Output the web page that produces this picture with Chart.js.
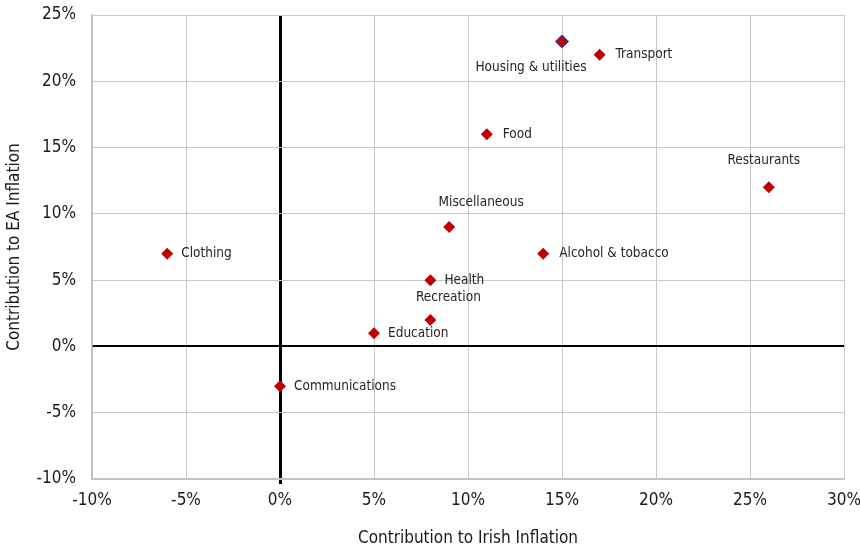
<!DOCTYPE html>
<html>
<head>
<meta charset="utf-8">
<script src="https://cdn.jsdelivr.net/npm/chart.js@4.4.1/dist/chart.umd.min.js"></script>
<style>
  html, body { margin: 0; padding: 0; background: #fff; }
</style>
</head>
<body>
<canvas id="scatter" width="860" height="551"></canvas>
<script>
// contribution to Irish inflation (x) vs EA inflation (y), in %
const categories = ['Housing & utilities', 'Transport', 'Food', 'Restaurants', 'Miscellaneous',
  'Alcohol & tobacco', 'Clothing', 'Health', 'Recreation', 'Education', 'Communications'];
const irish = [15, 17, 11, 26, 9, 14, -6, 8, 8, 5, 0];
const ea = [23, 22, 16, 12, 9, 7, 7, 5, 2, 1, -3];
const xTicks = [-10, -5, 0, 5, 10, 15, 20, 25, 30];
const yTicks = [-10, -5, 0, 5, 10, 15, 20, 25];

// label placement relative to the point (pixels), centre-aligned unless 'right'
const labelOffset = [[-31, 26], [16, 0], [16, 0], [-5, -27], [32, -25],
  [16, 0], [14, 0], [14, 0], [18, -22], [14, 0], [14, 0]];
const labelRight = [false, true, true, false, false, true, true, true, false, true, true];

const ctx = document.getElementById('scatter').getContext('2d');
const fam = '"DejaVu Sans Condensed", "Liberation Sans Narrow", sans-serif';
const tickFont = { family: fam, size: 17 };
const titleFont = { family: fam, size: 17 };

const pointLabels = {
  id: 'pointLabels',
  afterDatasetsDraw(chart) {
    const meta = chart.getDatasetMeta(0);
    const c = chart.ctx;
    c.save();
    c.font = '13.5px ' + fam;
    c.fillStyle = '#262626';
    c.textBaseline = 'middle';
    meta.data.forEach((pt, i) => {
      c.textAlign = labelRight[i] ? 'left' : 'center';
      c.fillText(categories[i], pt.x + labelOffset[i][0], pt.y + labelOffset[i][1]);
    });
    c.restore();
  }
};

new Chart(ctx, {
  type: 'scatter',
  data: {
    labels: categories,
    datasets: [{
      data: irish.map((x, i) => ({ x: x, y: ea[i] })),
      backgroundColor: '#c00000',
      borderColor: categories.map((c, i) => i === 0 ? '#4b2a7a' : '#c00000'),
      borderWidth: categories.map((c, i) => i === 0 ? 1.5 : 0),
      pointStyle: 'rectRot',
      pointRadius: 6,
      pointHoverRadius: 6
    }]
  },
  options: {
    responsive: false,
    animation: false,
    maintainAspectRatio: false,
    layout: { padding: { top: 15, right: 16, left: 4, bottom: 2 } },
    plugins: { legend: { display: false }, tooltip: { enabled: false } },
    scales: {
      x: {
        type: 'linear',
        min: -10, max: 30,
        afterBuildTicks: (axis) => { axis.ticks = xTicks.map(v => ({ value: v })); },
        afterFit: (axis) => { axis.height = 70; axis.paddingLeft = 0; axis.paddingRight = 0; },
        border: { color: '#c0c0c0', width: 1.5 },
        grid: {
          color: (c) => c.tick && c.tick.value === 0 ? '#000' : '#c8c8c8',
          lineWidth: (c) => c.tick && c.tick.value === 0 ? 3 : 1,
          tickLength: 5,
          tickColor: (c) => c.tick && c.tick.value === 0 ? '#000' : 'rgba(0,0,0,0)',
          tickWidth: 3
        },
        ticks: { font: tickFont, color: '#1a1a1a', padding: 6, maxRotation: 0, callback: (v) => v + '%' },
        title: { display: true, text: 'Contribution to Irish Inflation', font: titleFont, color: '#1a1a1a', padding: { top: 2, bottom: 0 } }
      },
      y: {
        type: 'linear',
        min: -10, max: 25,
        afterBuildTicks: (axis) => { axis.ticks = yTicks.map(v => ({ value: v })); },
        afterFit: (axis) => { axis.width = 88; axis.paddingTop = 0; axis.paddingBottom = 0; },
        border: { color: '#c0c0c0', width: 1.5 },
        grid: {
          color: (c) => c.tick && c.tick.value === 0 ? '#000' : '#c8c8c8',
          lineWidth: (c) => c.tick && c.tick.value === 0 ? 2 : 1,
          drawTicks: false
        },
        ticks: { font: tickFont, color: '#1a1a1a', padding: 16, callback: (v) => v + '%' },
        title: { display: true, text: 'Contribution to EA Inflation', font: titleFont, color: '#1a1a1a', padding: { top: 0, bottom: 6 } }
      }
    }
  },
  plugins: [pointLabels]
});
</script>
</body>
</html>
